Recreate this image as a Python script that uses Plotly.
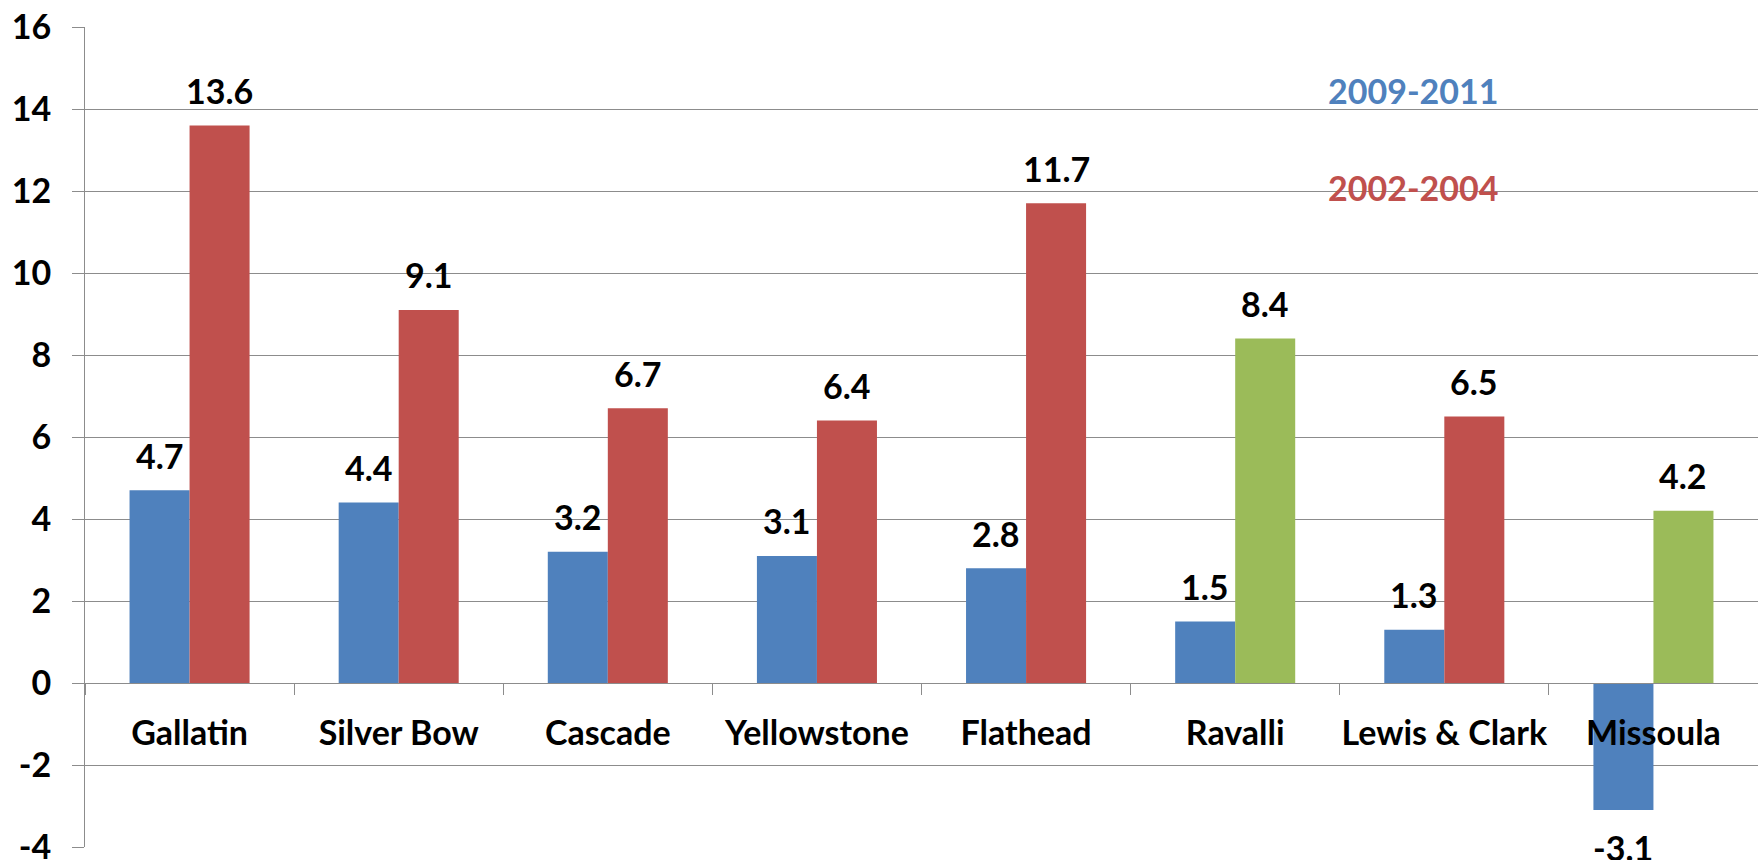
import plotly.graph_objects as go

counties = ["Gallatin", "Silver Bow", "Cascade", "Yellowstone", "Flathead",
            "Ravalli", "Lewis & Clark", "Missoula"]
growth_2009_2011 = [4.7, 4.4, 3.2, 3.1, 2.8, 1.5, 1.3, -3.1]
growth_2002_2004 = [13.6, 9.1, 6.7, 6.4, 11.7, 8.4, 6.5, 4.2]
# Ravalli and Missoula earlier-period bars are shown in green
highlight = ["Ravalli", "Missoula"]
y_ticks = [-4, -2, 0, 2, 4, 6, 8, 10, 12, 14, 16]

BLUE = "#4F81BD"
RED = "#C0504D"
GREEN = "#9BBB59"
GRID = "#8C8C8C"
FONT = "Lato"
SIZE = 34

second_colors = [GREEN if c in highlight else RED for c in counties]
bold = dict(family=FONT, size=SIZE, color="black", weight="bold")

fig = go.Figure()
fig.add_trace(go.Bar(x=counties, y=growth_2009_2011, name="2009-2011",
                     marker=dict(color=BLUE, line_width=0)))
fig.add_trace(go.Bar(x=counties, y=growth_2002_2004, name="2002-2004",
                     marker=dict(color=second_colors, line_width=0)))

# value labels above (or below) each bar
for vals, dx in [(growth_2009_2011, -30), (growth_2002_2004, 30)]:
    for c, v in zip(counties, vals):
        fig.add_annotation(x=c, y=v, text=f"{v:.1f}", showarrow=False,
                           xshift=dx, yshift=35 if v >= 0 else -37,
                           xanchor="center", yanchor="middle", font=bold)

# legend written as coloured text
fig.add_annotation(x=0.794, y=0.923, xref="paper", yref="paper", text="2009-2011",
                   showarrow=False, xanchor="center", yanchor="middle",
                   font=dict(family=FONT, size=SIZE, color=BLUE, weight="bold"))
fig.add_annotation(x=0.794, y=0.804, xref="paper", yref="paper", text="2002-2004",
                   showarrow=False, xanchor="center", yanchor="middle",
                   font=dict(family=FONT, size=SIZE, color=RED, weight="bold"))

fig.update_layout(
    width=1758, height=860,
    margin=dict(l=85, r=0, t=27, b=13),
    paper_bgcolor="white", plot_bgcolor="white",
    barmode="group", bargap=0.426, bargroupgap=0,
    showlegend=False,
    font=dict(family=FONT, size=SIZE, color="black"),
)
fig.update_yaxes(range=[-4, 16], tickvals=y_ticks, ticktext=[str(t) for t in y_ticks],
                 showgrid=True, gridcolor=GRID, gridwidth=1, automargin=False,
                 zeroline=False, showline=True, linecolor=GRID, linewidth=1,
                 ticks="outside", ticklen=12, tickcolor=GRID, ticklabelstandoff=14,
                 ticklabeloverflow="allow", tickfont=bold)
fig.update_xaxes(anchor="free", position=0.2, showgrid=False, showline=True,
                 linecolor=GRID, linewidth=1, ticks="outside", tickson="boundaries",
                 ticklen=11, tickcolor=GRID, ticklabelstandoff=20, automargin=False,
                 tickangle=0, ticklabeloverflow="allow", tickfont=bold)

fig.write_html("out.html", config={"displayModeBar": False},
               post_script="document.body.style.margin='0';")
